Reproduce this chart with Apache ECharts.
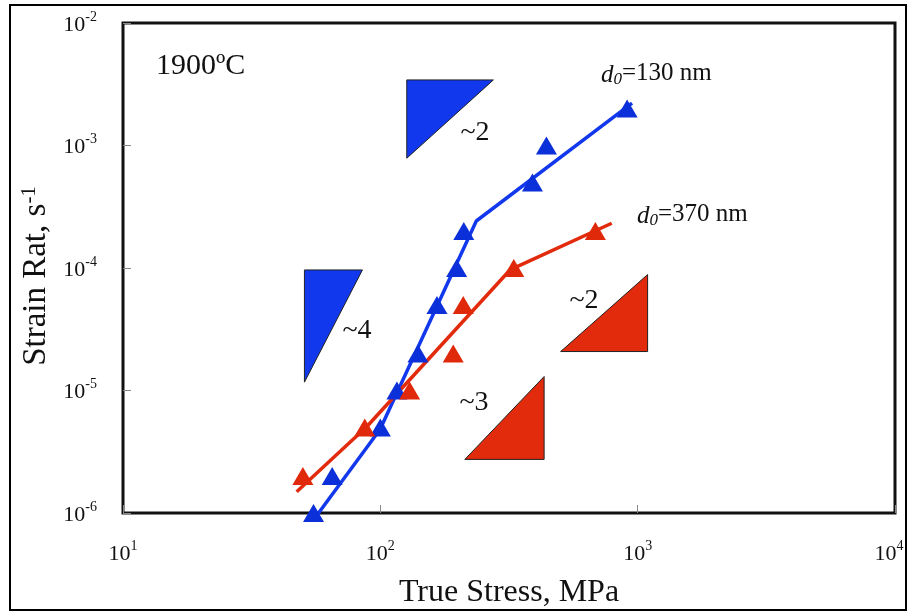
<!DOCTYPE html>
<html>
<head>
	<meta charset="utf-8">
	<title>Strain rate vs true stress</title>
	<script src="https://cdn.jsdelivr.net/npm/echarts@6/dist/echarts.min.js"></script>
	<style>
		html, body { margin: 0; padding: 0; background: #fff; }
	</style>
</head>
<body>
	<div id="main" style="width: 909px;height: 612px;"></div>
</body>
<script type="text/javascript">
	// tick exponents (10^n)
	var xTickExp = [1, 2, 3, 4];
	var yTickExp = [-6, -5, -4, -3, -2];

	// measured points, d0 = 130 nm  [stress MPa, strain rate 1/s]
	var pts130 = [[55, 1e-6], [65, 2e-6], [100, 5e-6], [116, 1e-5], [140, 2e-5], [166, 5e-5],
		[198, 1e-4], [211, 2e-4], [390, 5e-4], [442, 1e-3], [910, 2e-3]];
	// measured points, d0 = 370 nm
	var pts370 = [[50, 2e-6], [87, 5e-6], [130, 1e-5], [192, 2e-5], [210, 5e-5], [330, 1e-4], [685, 2e-4]];

	// fitted lines
	var fit130 = [[56.5, 9.5e-7], [99.7, 4.8e-6], [236, 2.42e-4], [951, 2.22e-3]];
	var fit370 = [[47.3, 1.49e-6], [88.5, 5.06e-6], [319, 9.64e-5], [793, 2.32e-4]];

	// slope triangles, 3 vertices each [x1,y1,x2,y2,x3,y3]
	var blueTris = [
		[126.7, 3.43e-3, 275, 3.43e-3, 126.7, 7.87e-4],
		[50.7, 9.64e-5, 85.2, 9.64e-5, 50.7, 1.17e-5]
	];
	var redTris = [
		[502, 2.08e-5, 1093, 8.83e-5, 1093, 2.08e-5],
		[213, 2.74e-6, 433, 1.30e-5, 433, 2.74e-6]
	];

	var FONT = '"Liberation Serif", "Times New Roman", serif';
	var BLUE = '#1238ee';
	var BLUE_M = '#0b2fd8';
	var RED = '#e22a0c';
	var RED_M = '#e0280a';

	function expLabel(v) {
		var e = Math.round(Math.log10(v));
		return '{b|10}{sup|' + e + '}';
	}
	// last x label sits a bit left of its tick, as in the original
	function xExpLabel(v) {
		var e = Math.round(Math.log10(v));
		if (e === xTickExp[xTickExp.length - 1]) return '{b|10}{supL|' + e + '}';
		return '{b|10}{sup|' + e + '}';
	}
	var tickRich = {
		b: {fontSize: 22, fontFamily: FONT, color: '#111', lineHeight: 26, verticalAlign: 'bottom'},
		sup: {fontSize: 14, fontFamily: FONT, color: '#111', lineHeight: 26, verticalAlign: 'top'},
		supL: {fontSize: 14, fontFamily: FONT, color: '#111', lineHeight: 26, verticalAlign: 'top', padding: [0, 12, 0, 0]}
	};

	function triRender(color) {
		return function (params, api) {
			var pts = [
				api.coord([api.value(0), api.value(1)]),
				api.coord([api.value(2), api.value(3)]),
				api.coord([api.value(4), api.value(5)])
			];
			return {
				type: 'polygon',
				shape: {points: pts},
				style: {fill: color, stroke: '#222', lineWidth: 1}
			};
		};
	}

	var myChart = echarts.init(document.getElementById('main'));
	var option = {
		backgroundColor: '#fff',
		animation: false,
		grid: {
			left: 123, top: 23, width: 772, height: 490,
			containLabel: false, outerBoundsMode: 'none',
			show: true, borderColor: '#111', borderWidth: 3, backgroundColor: 'transparent'
		},
		xAxis: {
			type: 'log',
			logBase: 10,
			min: Math.pow(10, xTickExp[0]),
			max: Math.pow(10, xTickExp[xTickExp.length - 1]),
			splitNumber: 3,
			axisLine: {show: false},
			axisTick: {show: true, inside: true, length: 8, lineStyle: {color: '#888', width: 1}},
			splitLine: {show: false},
			axisLabel: {margin: 26, formatter: xExpLabel, rich: tickRich},
			name: 'True Stress, MPa',
			nameLocation: 'middle',
			nameGap: 64,
			nameTextStyle: {fontFamily: FONT, fontSize: 32, color: '#111'}
		},
		yAxis: {
			type: 'log',
			logBase: 10,
			min: Math.pow(10, yTickExp[0]),
			max: Math.pow(10, yTickExp[yTickExp.length - 1]),
			splitNumber: 4,
			axisLine: {show: false},
			axisTick: {show: true, inside: true, length: 8, lineStyle: {color: '#888', width: 1}},
			splitLine: {show: false},
			axisLabel: {margin: 26, formatter: expLabel, rich: tickRich},
			name: 'Strain Rat, s{sup|-1}',
			nameLocation: 'middle',
			nameGap: 70,
			nameTextStyle: {
				fontFamily: FONT, fontSize: 33, color: '#111', padding: [0, 16, 0, 0],
				rich: {sup: {fontFamily: FONT, fontSize: 21, color: '#111', verticalAlign: 'top', lineHeight: 33}}
			}
		},
		series: [
			{type: 'custom', renderItem: triRender(BLUE), encode: {x: [0, 2, 4], y: [1, 3, 5]}, data: blueTris, z: 1, silent: true},
			{type: 'custom', renderItem: triRender(RED), encode: {x: [0, 2, 4], y: [1, 3, 5]}, data: redTris, z: 1, silent: true},
			{type: 'line', data: fit130, showSymbol: false, lineStyle: {color: BLUE, width: 3.5}, z: 2},
			{type: 'line', data: fit370, showSymbol: false, lineStyle: {color: RED, width: 3.5}, z: 2},
			{type: 'scatter', data: pts130, symbol: 'triangle', symbolSize: [21, 18], clip: false,
				itemStyle: {color: BLUE_M, opacity: 1}, z: 3},
			{type: 'scatter', data: pts370, symbol: 'triangle', symbolSize: [21, 18], clip: false,
				itemStyle: {color: RED_M, opacity: 1}, z: 3}
		],
		graphic: [
			{type: 'rect', shape: {x: 10, y: 5, width: 896, height: 605}, style: {fill: null, stroke: '#000', lineWidth: 2}, silent: true},
			{type: 'text', x: 156, y: 66, style: {text: '1900ºC', fontFamily: FONT, fontSize: 30, fill: '#111', verticalAlign: 'middle'}},
			{type: 'text', x: 601, y: 73, style: {
				text: '{i|d}{s|0}=130 nm', fontFamily: FONT, fontSize: 25, fill: '#111', verticalAlign: 'middle',
				rich: {i: {fontFamily: FONT, fontStyle: 'italic', fontSize: 25, lineHeight: 30, verticalAlign: 'bottom'},
					s: {fontFamily: FONT, fontStyle: 'italic', fontSize: 17, lineHeight: 22, verticalAlign: 'bottom'}}
			}},
			{type: 'text', x: 637, y: 214, style: {
				text: '{i|d}{s|0}=370 nm', fontFamily: FONT, fontSize: 25, fill: '#111', verticalAlign: 'middle',
				rich: {i: {fontFamily: FONT, fontStyle: 'italic', fontSize: 25, lineHeight: 30, verticalAlign: 'bottom'},
					s: {fontFamily: FONT, fontStyle: 'italic', fontSize: 17, lineHeight: 22, verticalAlign: 'bottom'}}
			}},
			{type: 'text', x: 475, y: 133, style: {text: '~2', fontFamily: FONT, fontSize: 28, fill: '#111', align: 'center', verticalAlign: 'middle'}},
			{type: 'text', x: 357, y: 331, style: {text: '~4', fontFamily: FONT, fontSize: 28, fill: '#111', align: 'center', verticalAlign: 'middle'}},
			{type: 'text', x: 584, y: 301, style: {text: '~2', fontFamily: FONT, fontSize: 28, fill: '#111', align: 'center', verticalAlign: 'middle'}},
			{type: 'text', x: 474, y: 403, style: {text: '~3', fontFamily: FONT, fontSize: 28, fill: '#111', align: 'center', verticalAlign: 'middle'}}
		]
	};
	myChart.setOption(option);
</script>
</html>
